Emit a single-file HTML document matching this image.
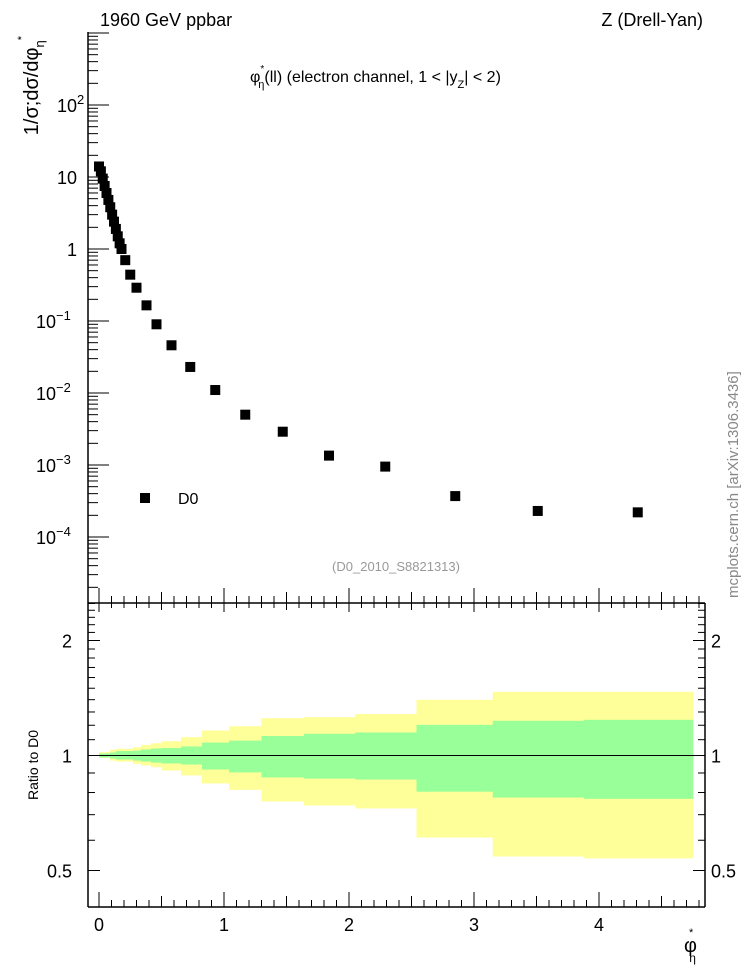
<!DOCTYPE html>
<html><head><meta charset="utf-8">
<style>
html,body{margin:0;padding:0;background:#fff;}
svg{display:block;font-family:"Liberation Sans",sans-serif;}
</style></head>
<body>
<svg id="chart" width="746" height="972" viewBox="0 0 746 972" xmlns="http://www.w3.org/2000/svg">
<text x="100" y="26" font-size="18">1960 GeV ppbar</text>
<text x="703" y="26" font-size="18" text-anchor="end">Z (Drell-Yan)</text>
<text x="250" y="82" font-size="16">φ<tspan dy="-10" font-size="10">*</tspan><tspan dy="16" dx="-6" font-size="11">η</tspan><tspan dy="-6">(ll) (electron channel, 1 &lt; |y</tspan><tspan dy="6" font-size="11">Z</tspan><tspan dy="-6">| &lt; 2)</tspan></text>
<text transform="translate(38,36) rotate(-90)" font-size="20" text-anchor="end">1/σ;dσ/dφ<tspan dy="6" font-size="13">η</tspan><tspan dy="-19" font-size="11">*</tspan></text>
<text transform="translate(738,598) rotate(-90)" font-size="15" fill="#888">mcplots.cern.ch [arXiv:1306.3436]</text>
<text x="396" y="571" font-size="13" fill="#999" text-anchor="middle">(D0_2010_S8821313)</text>
<rect x="140" y="493" width="10" height="10" fill="#000"/>
<text x="178" y="504" font-size="16">D0</text>
<text transform="translate(38,800) rotate(-90)" font-size="14">Ratio to D0</text>
<text x="684" y="952" font-size="20">φ<tspan dy="-16" dx="-8" font-size="11">*</tspan><tspan dy="26" dx="-4" font-size="12">η</tspan></text>
<g id="main"></g>
<g id="ratio"></g>
</svg>
<script>
const xData = [0.0,0.015,0.03,0.045,0.06,0.075,0.09,0.105,0.12,0.135,0.15,0.165,0.18,0.21,0.25,0.3,0.38,0.46,0.58,0.73,0.93,1.17,1.47,1.84,2.29,2.85,3.51,4.31];
const yData = [14,12,9.5,7.5,6,4.8,3.8,3.0,2.4,1.9,1.5,1.2,1.0,0.7,0.44,0.29,0.165,0.09,0.046,0.023,0.011,0.005,0.0029,0.00135,0.00095,0.00037,0.00023,0.00022];
const binEdges = [0,0.088,0.136,0.272,0.336,0.416,0.504,0.656,0.824,1.04,1.30,1.64,2.05,2.54,3.15,3.88,4.75];
const yellowUp = [1.02,1.035,1.041,1.051,1.066,1.077,1.090,1.117,1.163,1.193,1.252,1.26,1.284,1.399,1.468,1.468];
const yellowLow = [0.986,0.970,0.964,0.951,0.942,0.932,0.914,0.887,0.845,0.813,0.758,0.74,0.727,0.610,0.544,0.538];
const greenUp = [1.012,1.018,1.027,1.03,1.037,1.043,1.046,1.056,1.081,1.094,1.125,1.14,1.149,1.203,1.233,1.24];
const greenLow = [0.988,0.982,0.976,0.970,0.964,0.958,0.953,0.947,0.919,0.903,0.876,0.87,0.865,0.804,0.776,0.77];
const xTicks = [0,1,2,3,4];
const yTickDecades = [-4,-3,-2,-1,0,1,2];
const ratioTicks = [0.5,1,2];

const NS="http://www.w3.org/2000/svg";
const L=88,R=705,T=32,B=603,RB=907;
const X=v=>99+v*125;
const Y=v=>249-Math.log10(v)*72;
const RY=v=>755.5-Math.log10(v)*382;
function mk(p,tag,a){const e=document.createElementNS(NS,tag);for(const k in a)e.setAttribute(k,a[k]);p.appendChild(e);return e;}
const main=document.getElementById('main'), ratio=document.getElementById('ratio');

for(let i=0;i<yellowUp.length;i++){
  const x0=X(binEdges[i]),x1=X(binEdges[i+1]);
  const y=mk(ratio,'rect',{x:x0,y:RY(yellowUp[i]),width:x1-x0+0.5,height:RY(yellowLow[i])-RY(yellowUp[i]),fill:'#ffff99'});
  
  
}
for(let i=0;i<greenUp.length;i++){
  const x0=X(binEdges[i]),x1=X(binEdges[i+1]);
  const g=mk(ratio,'rect',{x:x0,y:RY(greenUp[i]),width:x1-x0+0.5,height:RY(greenLow[i])-RY(greenUp[i]),fill:'#99ff99'});
  
  
}
mk(ratio,'line',{x1:L,x2:R,y1:RY(1),y2:RY(1),stroke:'#000','stroke-width':1});

mk(main,'line',{x1:L,x2:L,y1:T,y2:B,stroke:'#000','stroke-width':1.5});
mk(main,'line',{x1:L,x2:R,y1:B,y2:B,stroke:'#000','stroke-width':1.5});
mk(ratio,'line',{x1:L,x2:L,y1:B,y2:RB,stroke:'#000','stroke-width':1.5});
mk(ratio,'line',{x1:R,x2:R,y1:B,y2:RB,stroke:'#000','stroke-width':1.5});
mk(ratio,'line',{x1:L,x2:R,y1:RB,y2:RB,stroke:'#000','stroke-width':1.5});

for(let d=-5;d<=3;d++){
  for(let m=1;m<10;m++){
    const v=m*Math.pow(10,d),y=Y(v);
    if(y<T||y>B)continue;
    mk(main,'line',{x1:L,x2:L+(m==1?21:10),y1:y,y2:y,stroke:'#000','stroke-width':1});
  }
}
yTickDecades.forEach(d=>{
  const y=Y(Math.pow(10,d));
  const t=mk(main,'text',{x:77,y:y+7,'font-size':18});
  if(d==0||d==1){t.setAttribute('text-anchor','end');t.textContent=d==0?'1':'10';}
  else{t.setAttribute('x',d<0?36:57);t.textContent='10';const s=mk(t,'tspan',{dy:-8,'font-size':13});s.textContent=String(d).replace('-','−');}
  
  
});

for(let k=0;k<=48;k++){
  const v=k*0.1,x=X(v);if(x>R)break;
  const major=k%10==0,mid=k%5==0;
  const len=major?15:(mid?11:7);
  mk(main,'line',{x1:x,x2:x,y1:B,y2:B-len,stroke:'#000','stroke-width':1});
  mk(ratio,'line',{x1:x,x2:x,y1:B,y2:B+(major?9:(mid?7:5)),stroke:'#000','stroke-width':1});
  mk(ratio,'line',{x1:x,x2:x,y1:RB,y2:RB-len,stroke:'#000','stroke-width':1});
}
xTicks.forEach(v=>{
  const t=mk(ratio,'text',{x:X(v),y:931,'font-size':18,'text-anchor':'middle'});t.textContent=v;
  
  
});

[0.4,0.5,0.6,0.7,0.8,0.9,1,1.1,1.2,1.3,1.4,1.5,1.6,1.7,1.8,1.9,2,2.1,2.2,2.3,2.4,2.5].forEach(v=>{
  const y=RY(v);if(y<B||y>RB)return;
  const maj=ratioTicks.includes(v);
  mk(ratio,'line',{x1:L,x2:L+(maj?12:7),y1:y,y2:y,stroke:'#000','stroke-width':1});
  mk(ratio,'line',{x1:R,x2:R-(maj?12:7),y1:y,y2:y,stroke:'#000','stroke-width':1});
});
ratioTicks.forEach(v=>{
  const t=mk(ratio,'text',{x:72,y:RY(v)+7,'font-size':18,'text-anchor':'end'});t.textContent=v;
  
  
  const t2=mk(ratio,'text',{x:711,y:RY(v)+7,'font-size':18});t2.textContent=v;
  
  
});

xData.forEach((v,i)=>{
  const p=mk(main,'rect',{x:X(v)-5,y:Y(yData[i])-5,width:10,height:10,fill:'#000'});
  
  
});
</script>
</body></html>
